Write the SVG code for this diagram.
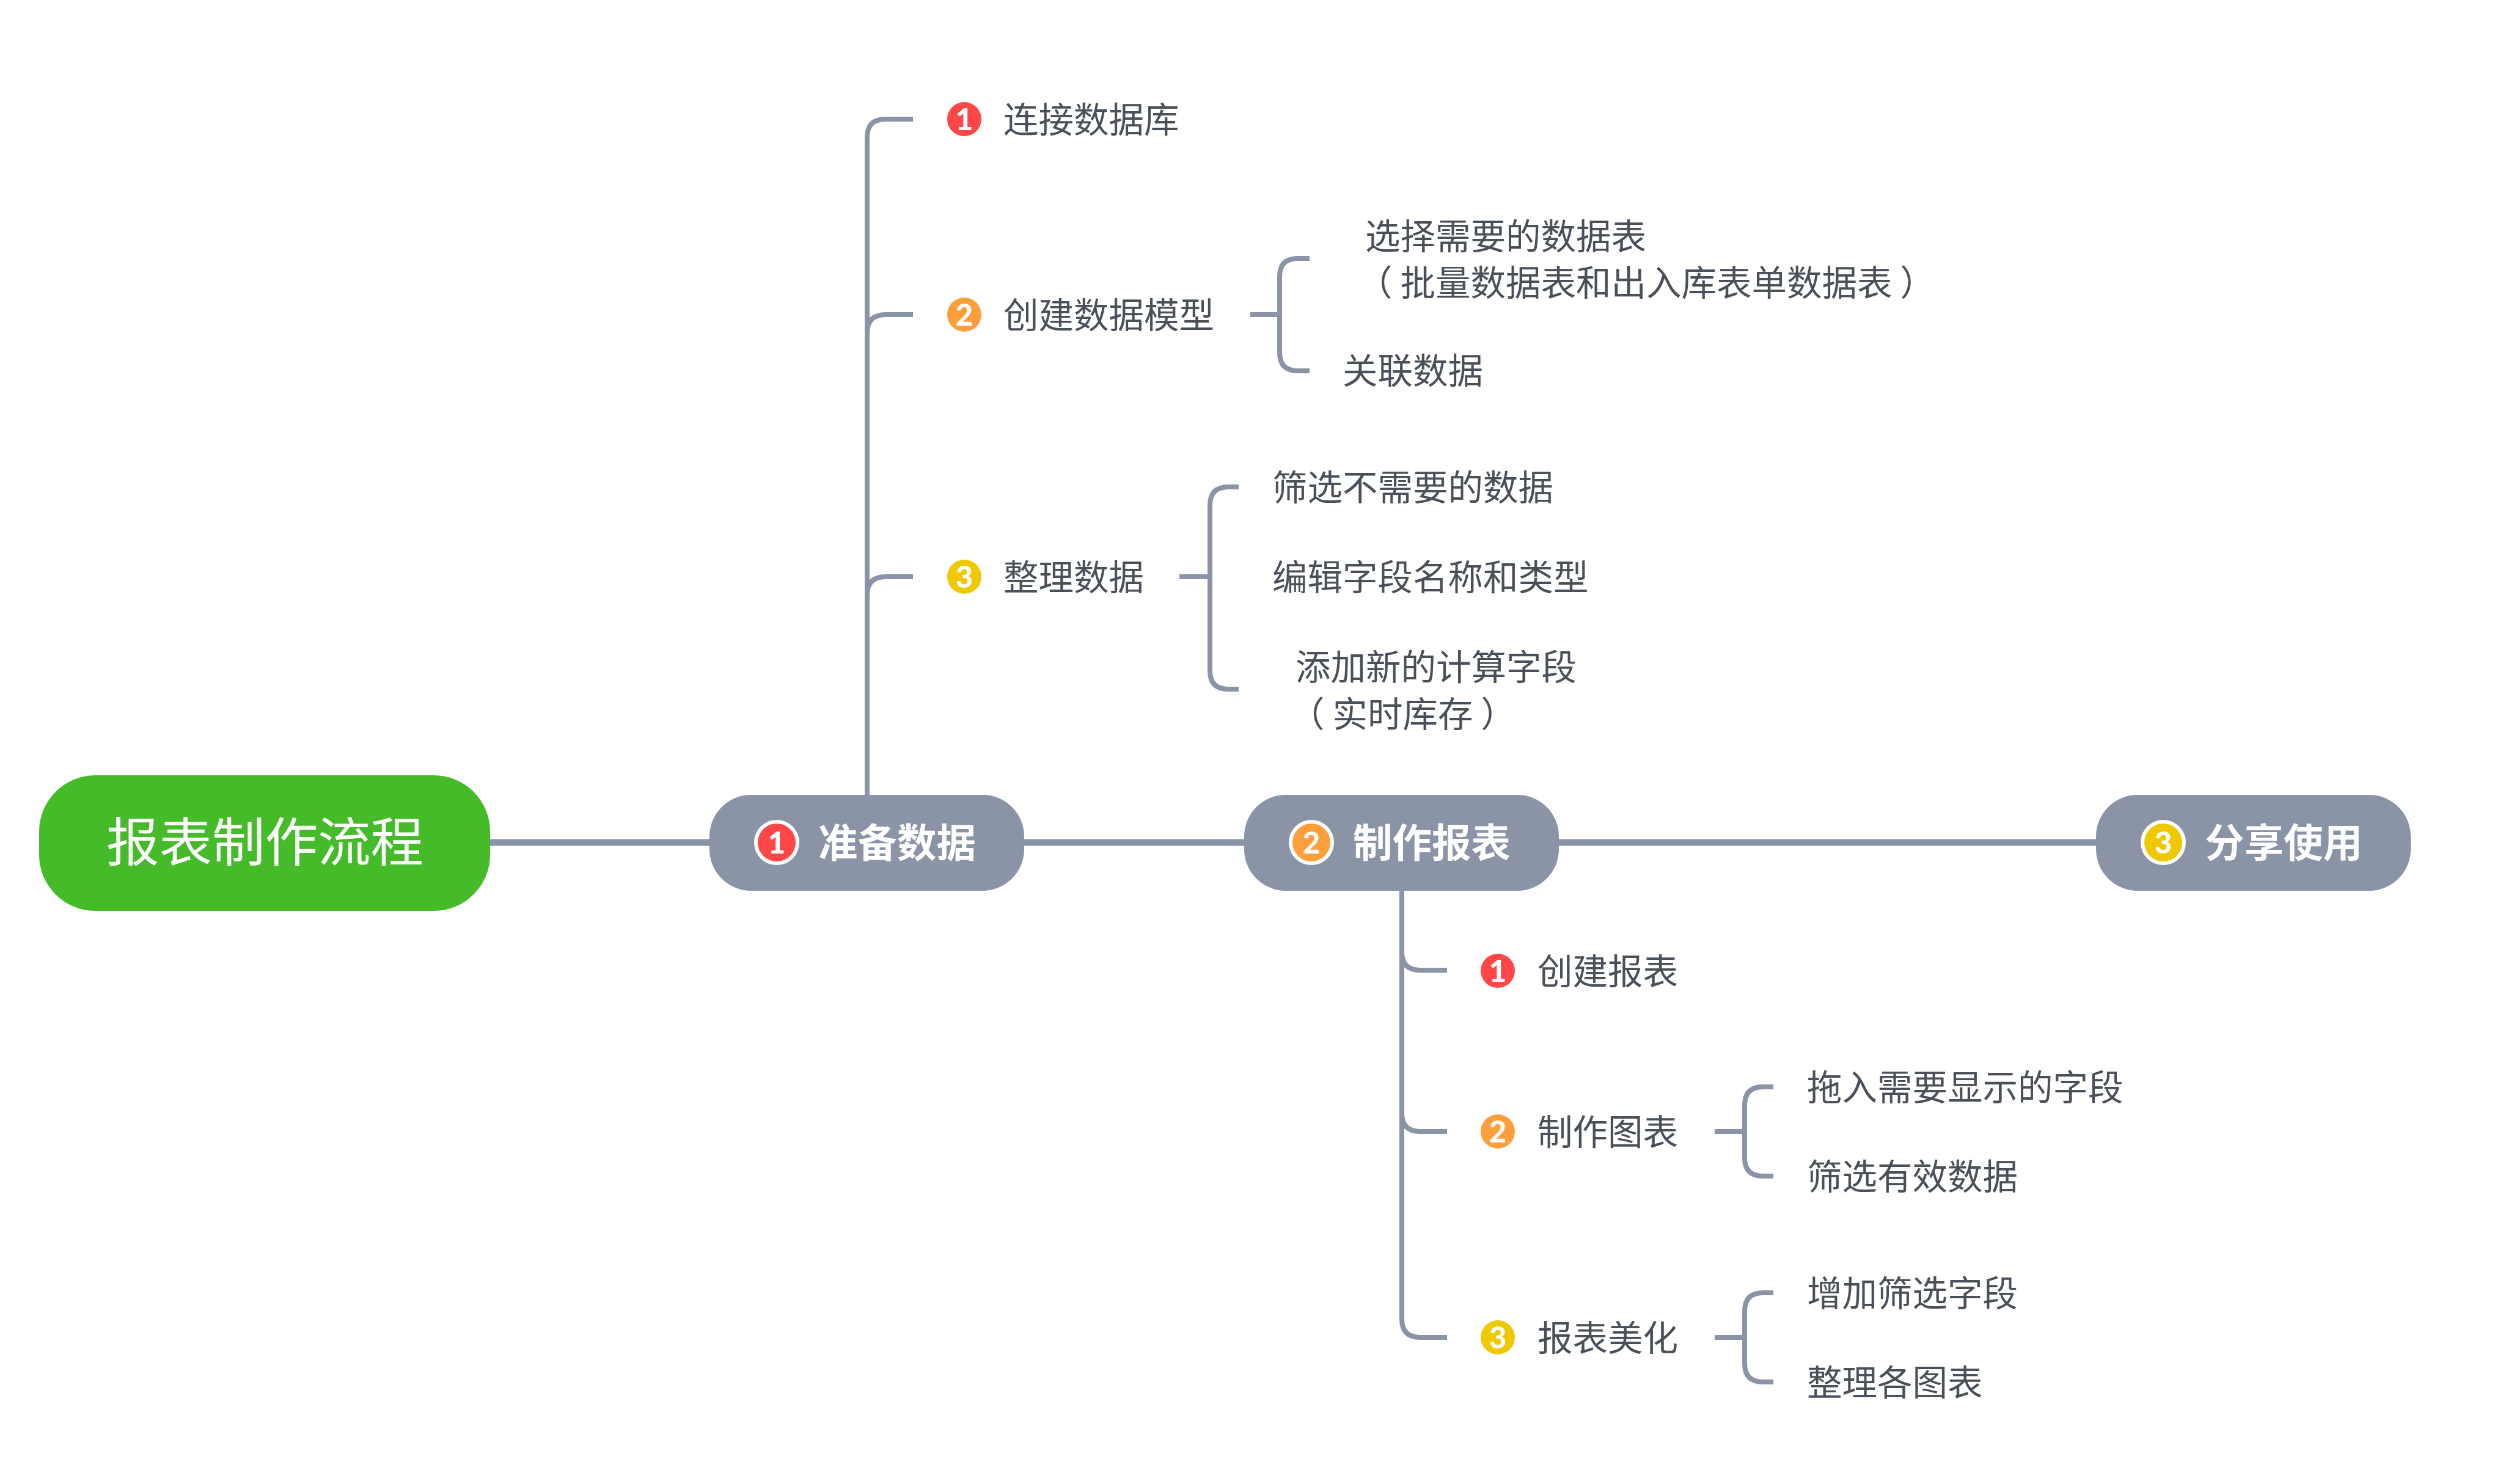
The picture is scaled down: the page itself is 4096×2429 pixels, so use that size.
<svg xmlns="http://www.w3.org/2000/svg" width="4096" height="2429" viewBox="0 0 4096 2429">
<style>
text{font-family:"Noto Sans CJK SC","Noto Sans",sans-serif}
.c{fill:none;stroke:#8a94a6;stroke-width:8}
.m{fill:none;stroke:#8a94a6;stroke-width:11}
.t{font-size:57.5px;fill:#4a5059}
.n{font-size:64.5px;font-weight:700;fill:#fff}
.b{font-size:49px;font-weight:900;fill:#fff;text-anchor:middle;font-family:"Lato","Noto Sans",sans-serif}
.bg{fill:#8a94a6}
.red{fill:#ff4747}.ora{fill:#ff9f3c}.yel{fill:#f0c800}
</style>
<rect width="4096" height="2429" fill="#fff"/>
<g id="connectors">
<path class="m" d="M802 1379H3430"/>
<path class="c" d="M1419 1301V225Q1419 195 1449 195H1494"/>
<path class="c" d="M1419 545Q1419 515 1449 515H1494"/>
<path class="c" d="M1419 974Q1419 944 1449 944H1494"/>
<path class="c" d="M2046 515H2094"/>
<path class="c" d="M2143 423H2124Q2094 423 2094 453V577Q2094 607 2124 607H2143"/>
<path class="c" d="M1930 944H1980"/>
<path class="c" d="M2027 797H2010Q1980 797 1980 827V1098Q1980 1128 2010 1128H2027"/>
<path class="c" d="M2294 1458V2159Q2294 2189 2324 2189H2368"/>
<path class="c" d="M2294 1558Q2294 1588 2324 1588H2368"/>
<path class="c" d="M2294 1822Q2294 1852 2324 1852H2368"/>
<path class="c" d="M2806 1852H2855"/>
<path class="c" d="M2902 1779H2885Q2855 1779 2855 1809V1895Q2855 1925 2885 1925H2902"/>
<path class="c" d="M2806 2189H2855"/>
<path class="c" d="M2902 2116H2885Q2855 2116 2855 2146V2232Q2855 2262 2885 2262H2902"/>
</g>
<g id="root"><rect x="64" y="1269" width="738" height="222" rx="92" fill="#46bb2a"/><text x="174" y="1410" font-size="86.5" fill="#fff">报表制作流程</text></g>
<g id="n1"><rect class="bg" x="1161" y="1301" width="515" height="157" rx="68"/><circle cx="1271" cy="1379" r="37" fill="#fff"/><circle class="red" cx="1271" cy="1379" r="31"/><text class="b" x="1271" y="1397">1</text><text class="n" x="1339" y="1403">准备数据</text></g>
<g id="n2"><rect class="bg" x="2036" y="1301" width="515" height="157" rx="68"/><circle cx="2146" cy="1379" r="37" fill="#fff"/><circle class="ora" cx="2146" cy="1379" r="31"/><text class="b" x="2146" y="1397">2</text><text class="n" x="2214" y="1403">制作报表</text></g>
<g id="n3"><rect class="bg" x="3430" y="1301" width="515" height="157" rx="68"/><circle cx="3540" cy="1379" r="37" fill="#fff"/><circle class="yel" cx="3540" cy="1379" r="31"/><text class="b" x="3540" y="1397">3</text><text class="n" x="3608" y="1403">分享使用</text></g>
<g id="a1"><circle class="red" cx="1578" cy="195" r="28"/><text class="b" x="1578" y="213">1</text><text class="t" x="1642" y="217">连接数据库</text></g>
<g id="a2"><circle class="ora" cx="1578" cy="515" r="28"/><text class="b" x="1578" y="533">2</text><text class="t" x="1642" y="537">创建数据模型</text></g>
<g id="a3"><circle class="yel" cx="1578" cy="944" r="28"/><text class="b" x="1578" y="962">3</text><text class="t" x="1642" y="966">整理数据</text></g>
<g id="a21"><text class="t" x="2234" y="408">选择需要的数据表<tspan x="2221" y="484">（ 批量数据表和出入库表单数据表 ）</tspan></text></g>
<g id="a22"><text class="t" x="2197" y="628">关联数据</text></g>
<g id="a31"><text class="t" x="2082" y="819">筛选不需要的数据</text></g>
<g id="a32"><text class="t" x="2082" y="966">编辑字段名称和类型</text></g>
<g id="a33"><text class="t" x="2120" y="1113">添加新的计算字段<tspan x="2110" y="1190">（ 实时库存 ）</tspan></text></g>
<g id="b1"><circle class="red" cx="2451" cy="1589" r="28"/><text class="b" x="2451" y="1607">1</text><text class="t" x="2516" y="1611">创建报表</text></g>
<g id="b2"><circle class="ora" cx="2451" cy="1852" r="28"/><text class="b" x="2451" y="1870">2</text><text class="t" x="2516" y="1874">制作图表</text></g>
<g id="b3"><circle class="yel" cx="2451" cy="2189" r="28"/><text class="b" x="2451" y="2207">3</text><text class="t" x="2516" y="2211">报表美化</text></g>
<g id="b21"><text class="t" x="2957" y="1801">拖入需要显示的字段</text></g>
<g id="b22"><text class="t" x="2957" y="1947">筛选有效数据</text></g>
<g id="b31"><text class="t" x="2957" y="2138">增加筛选字段</text></g>
<g id="b32"><text class="t" x="2957" y="2284">整理各图表</text></g>
</svg>
